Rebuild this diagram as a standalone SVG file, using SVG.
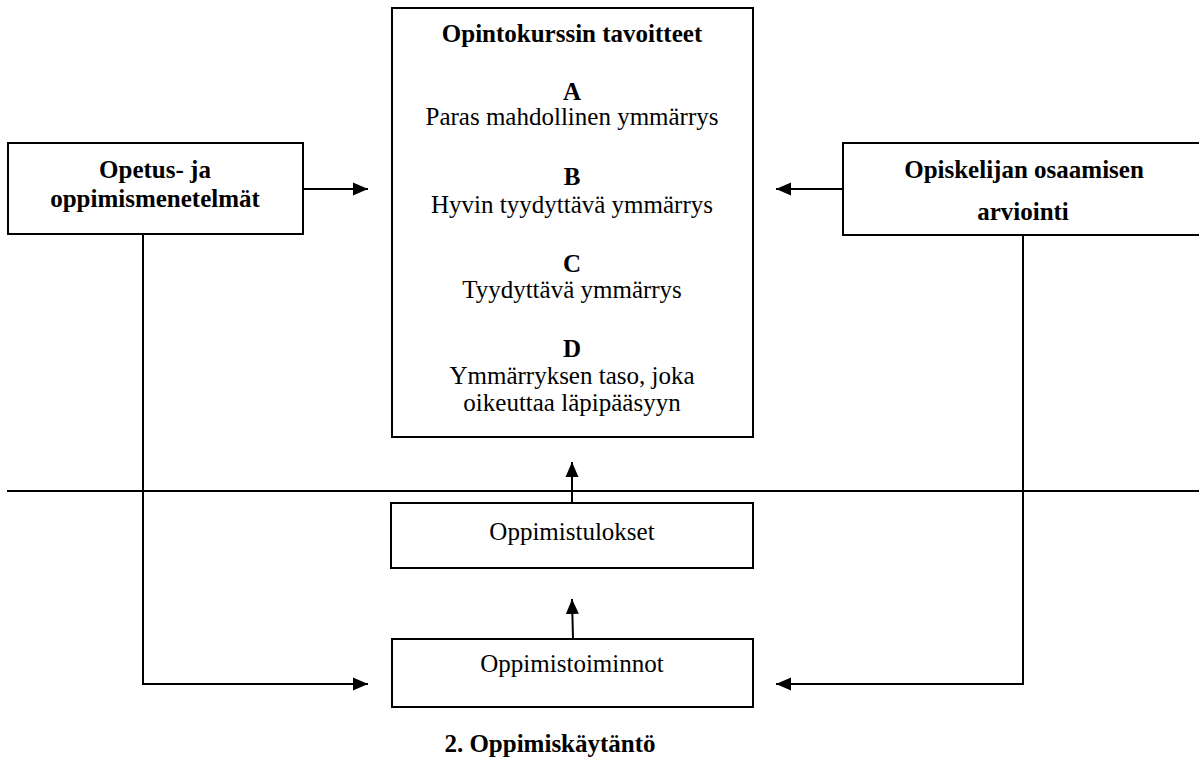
<svg xmlns="http://www.w3.org/2000/svg" width="1199" height="761" viewBox="0 0 1199 761">
<style>
.box{fill:#fff;stroke:#000;stroke-width:2}
.ln{fill:none;stroke:#000;stroke-width:2}
.t{font-family:"Liberation Serif","Times New Roman",serif;font-size:25px;fill:#000;text-anchor:middle}
.b{font-weight:bold}
</style>
<defs>
<marker id="ah" markerUnits="userSpaceOnUse" markerWidth="16" markerHeight="14" refX="15" refY="7" orient="auto">
<path d="M0,0.5 L15,7 L0,13.5 z" fill="#000"/>
</marker>
</defs>
<rect width="1199" height="761" fill="#fff"/>
<g id="connectors">
<line class="ln" x1="7" y1="491" x2="1199" y2="491"/>
<line class="ln" x1="303" y1="189" x2="368" y2="189" marker-end="url(#ah)"/>
<line class="ln" x1="843" y1="189" x2="776" y2="189" marker-end="url(#ah)"/>
<line class="ln" x1="572" y1="503" x2="572" y2="462" marker-end="url(#ah)"/>
<line class="ln" x1="573" y1="639" x2="572" y2="599" marker-end="url(#ah)"/>
<polyline class="ln" points="143,234 143,684 368,684" marker-end="url(#ah)"/>
<polyline class="ln" points="1023,235 1023,684 776,684" marker-end="url(#ah)"/>
</g>
<g id="methods">
<rect class="box" x="8" y="143" width="295" height="91"/>
<text class="t b" x="155" y="178">Opetus- ja</text>
<text class="t b" x="155" y="207">oppimismenetelmät</text>
</g>
<g id="goals">
<rect class="box" x="392" y="8" width="361" height="429"/>
<text class="t b" x="572" y="42">Opintokurssin tavoitteet</text>
<text class="t b" x="572" y="100">A</text>
<text class="t" x="572" y="125">Paras mahdollinen ymmärrys</text>
<text class="t b" x="572" y="185">B</text>
<text class="t" x="572" y="213">Hyvin tyydyttävä ymmärrys</text>
<text class="t b" x="572" y="272">C</text>
<text class="t" x="572" y="298">Tyydyttävä ymmärrys</text>
<text class="t b" x="572" y="357">D</text>
<text class="t" x="572" y="384">Ymmärryksen taso, joka</text>
<text class="t" x="572" y="411">oikeuttaa läpipääsyyn</text>
</g>
<g id="assessment">
<path class="ln" d="M1200,143 H843 V235 H1200"/>
<text class="t b" x="1024" y="178">Opiskelijan osaamisen</text>
<text class="t b" x="1023" y="220">arviointi</text>
</g>
<g id="outcomes">
<rect class="box" x="391" y="503" width="362" height="65"/>
<text class="t" x="572" y="540">Oppimistulokset</text>
</g>
<g id="activities">
<rect class="box" x="392" y="639" width="361" height="68"/>
<text class="t" x="572" y="672">Oppimistoiminnot</text>
</g>
<g id="caption">
<text class="t b" x="550" y="752">2. Oppimiskäytäntö</text>
</g>
</svg>
